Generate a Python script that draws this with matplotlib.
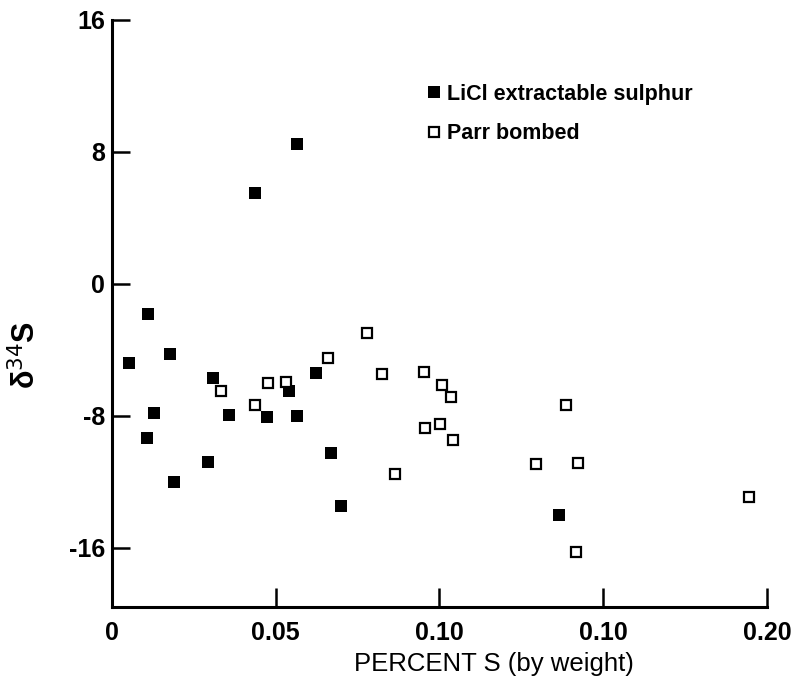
import numpy as np
import matplotlib.pyplot as plt

# LiCl extractable sulphur (filled squares)
licl_x = [0.0052, 0.0110, 0.0176, 0.0307, 0.0129, 0.0358, 0.0473, 0.0565, 0.0540,
          0.0624, 0.0106, 0.0292, 0.0188, 0.0670, 0.0700, 0.0438, 0.0566, 0.1364]
licl_y = [-4.8, -1.86, -4.28, -5.72, -7.84, -7.94, -8.08, -8.04, -6.53,
          -5.41, -9.33, -10.8, -12.0, -10.26, -13.47, 5.53, 8.48, -14.0]

# Parr bombed (open squares)
parr_x = [0.0332, 0.0436, 0.0477, 0.0532, 0.0660, 0.0778, 0.0825, 0.0863, 0.0954, 0.1008,
          0.1034, 0.0956, 0.1002, 0.1040, 0.1385, 0.1296, 0.1424, 0.1416, 0.1944]
parr_y = [-6.48, -7.33, -6.0, -5.94, -4.53, -3.01, -5.5, -11.56, -5.35, -6.14,
          -6.87, -8.73, -8.5, -9.47, -7.35, -10.95, -10.87, -16.28, -12.95]

xticks = [0, 0.05, 0.10, 0.15, 0.20]
xtick_labels = ["0", "0.05", "0.10", "0.10", "0.20"]
yticks = [16, 8, 0, -8, -16]
ytick_labels = ["16", "8", "0", "-8", "-16"]

plt.rcParams["font.family"] = ["Liberation Sans", "DejaVu Sans"]

fig = plt.figure(figsize=(7.98, 6.87), dpi=100)
ax = fig.add_axes([0.1404, 0.1165, 0.8206, 0.8544])

ax.plot(licl_x, licl_y, "s", color="black", ms=8, mew=0, label="LiCl extractable sulphur")
ax.plot(parr_x, parr_y, "s", mfc="white", mec="black", ms=7.5, mew=1.6, label="Parr bombed")

ax.set_xlim(0, 0.20)
ax.set_ylim(-19.6, 16)
ax.set_xticks(xticks)
ax.set_xticklabels(xtick_labels)
ax.set_yticks(yticks)
ax.set_yticklabels(ytick_labels)

for s in ["top", "right"]:
    ax.spines[s].set_visible(False)
for s in ["left", "bottom"]:
    ax.spines[s].set_linewidth(2.2)

ax.tick_params(axis="y", direction="in", length=13, width=1.8, labelsize=18, pad=5)
ax.tick_params(axis="x", direction="in", length=14, width=1.8, labelsize=18, pad=10)
for lab in ax.get_xticklabels() + ax.get_yticklabels():
    lab.set_fontweight("bold")

ax.set_xlabel("PERCENT S (by weight)", fontsize=18.5)
ax.xaxis.set_label_coords(0.583, -0.076)
ax.set_ylabel("δ$^{34}$S", fontsize=22, fontweight="bold")
ax.yaxis.set_label_coords(-0.107, 0.43)

leg = ax.legend(loc="upper left", bbox_to_anchor=(0.530, 0.878), bbox_transform=fig.transFigure,
                frameon=False, fontsize=15.5, handletextpad=0.1, handlelength=1.0,
                labelspacing=0.85, borderaxespad=0, borderpad=0)
for t in leg.get_texts():
    t.set_fontweight("bold")

plt.savefig("out.png", dpi=100)
